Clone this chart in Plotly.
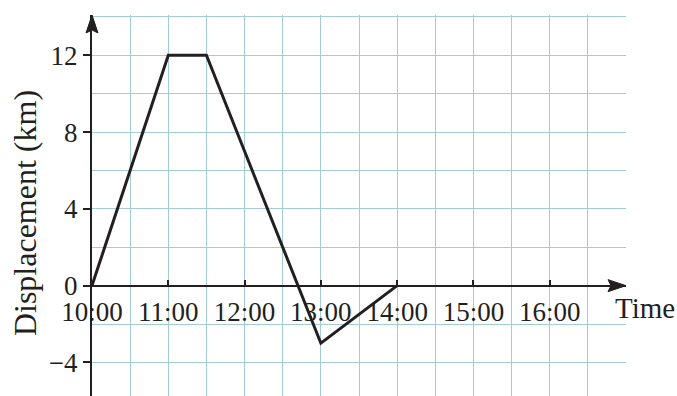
import plotly.graph_objects as go

# Journey: time of day (hours) and displacement from the start (km)
time_hours = [10, 11, 11.5, 13, 14]
displacement_km = [0, 12, 12, -3, 0]

hour_ticks = [10, 11, 12, 13, 14, 15, 16]
hour_labels = ["10:00", "11:00", "12:00", "13:00", "14:00", "15:00", "16:00"]
km_ticks = [-4, 0, 4, 8, 12]

x_range = [10, 17]
y_range = [-5.75, 14.1]

ink = "#231f20"
grid = "#a3ccd6"
serif = "Liberation Serif"

fig = go.Figure()
fig.add_trace(go.Scatter(
    x=time_hours, y=displacement_km, mode="lines",
    line=dict(color=ink, width=3), hoverinfo="skip", showlegend=False,
))

# the time axis sits on the zero-displacement line
zero_pos = (0 - y_range[0]) / (y_range[1] - y_range[0])

fig.update_layout(
    width=677, height=396,
    margin=dict(l=92, r=51, t=15, b=0),
    paper_bgcolor="white", plot_bgcolor="white",
    font=dict(family=serif, color=ink),
    xaxis=dict(
        range=x_range, anchor="free", position=zero_pos,
        tickvals=hour_ticks, ticktext=hour_labels,
        ticks="inside", ticklen=5, tickwidth=2, tickcolor=ink,
        ticklabelstandoff=2,
        tickfont=dict(family=serif, size=27, color=ink),
        showline=True, linecolor=ink, linewidth=2,
        showgrid=True, gridcolor=grid, gridwidth=1.2,
        minor=dict(dtick=0.5, tick0=10, showgrid=True, gridcolor=grid, gridwidth=1.2),
        zeroline=False, fixedrange=True,
    ),
    yaxis=dict(
        range=y_range,
        tickvals=km_ticks,
        ticks="outside", ticklen=7, tickwidth=2, tickcolor=ink,
        tickfont=dict(family=serif, size=27, color=ink),
        showline=True, linecolor=ink, linewidth=2,
        showgrid=True, gridcolor=grid, gridwidth=1.2,
        minor=dict(dtick=2, tick0=0, showgrid=True, gridcolor=grid, gridwidth=1.2),
        zeroline=False, fixedrange=True,
    ),
)

# arrowheads at the ends of both axes (path offsets in pixels, y pointing up)
fig.add_shape(type="path", xref="paper", yref="paper", xsizemode="pixel", ysizemode="pixel",
              xanchor=0, yanchor=1,
              path="M0,0 L-6,-18 L0,-15 L6,-18 Z",
              fillcolor=ink, line=dict(color=ink, width=1), layer="above")
fig.add_shape(type="path", xref="paper", yref="paper", xsizemode="pixel", ysizemode="pixel",
              xanchor=1, yanchor=zero_pos,
              path="M0,0 L-18,6 L-15,0 L-18,-6 Z",
              fillcolor=ink, line=dict(color=ink, width=1), layer="above")

fig.add_annotation(text="Displacement (km)", xref="paper", yref="paper",
                   x=-0.1255, y=0.48, xanchor="center", yanchor="middle",
                   textangle=-90, showarrow=False,
                   font=dict(family=serif, size=32, color=ink))
fig.add_annotation(text="Time", xref="paper", yref="y",
                   x=0.976, y=-1.15, xanchor="left", yanchor="middle",
                   showarrow=False,
                   font=dict(family=serif, size=29, color=ink))

fig.write_html("out.html")
